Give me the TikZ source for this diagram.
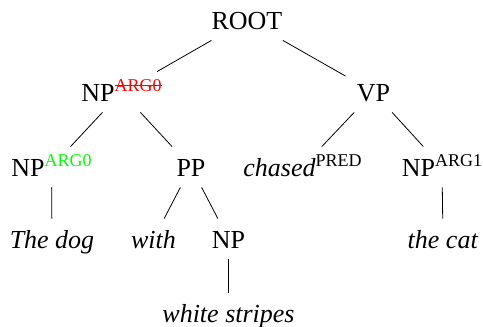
\documentclass[tikz,border=0pt]{standalone}
\usepackage{fontspec}
\setmainfont{Liberation Serif}
\usepackage{xcolor}
\newcommand{\role}[1]{\raisebox{9.5pt}{\fontsize{18}{18}\selectfont #1}} % 右肩のラベル
\newcommand{\strike}[1]{\setbox0\hbox{#1}\rlap{\copy0}\rule[0.3em]{\wd0}{0.7pt}} % 打ち消し線

\begin{document}
\begin{tikzpicture}[x=1pt, y=-1pt, line width=0.8pt,
  every node/.style={anchor=base, font=\fontsize{26}{30}\selectfont,
    text height=18pt, text depth=0pt, inner sep=11pt}] % 1pt = 1px
  \useasboundingbox (0,0) rectangle (483,327);
  \node (root) at (247,29) {ROOT};
  \node (np) at (121.5,101) {NP\role{\textcolor{red}{\strike{ARG0}}}};
  \node (vp) at (373.5,101) {VP};
  \node (npa) at (51.5,176) {NP\role{\textcolor{green}{ARG0}}};
  \node (pp) at (191,176) {PP};
  \node (chased) at (302.5,176) {\textit{chased}\role{PRED}};
  \node (npb) at (442,176) {NP\role{ARG1}};
  \node (dog) at (52,248) {\textit{The dog}};
  \node (with) at (153.5,248) {\textit{with}};
  \node (npc) at (228.5,248) {NP};
  \node (cat) at (443,248) {\textit{the cat}};
  \node (stripes) at (228.5,322) {\textit{white stripes}};
  % 枝
  \draw (root)--(np);
  \draw (root)--(vp);
  \draw (np)--(npa);
  \draw (np)--(pp);
  \draw (vp)--(chased);
  \draw (vp)--(npb);
  \draw (npa)--(dog);
  \draw (pp)--(with);
  \draw (pp)--(npc);
  \draw (npb)--(cat);
  \draw (npc)--(stripes);
\end{tikzpicture}
\end{document}
